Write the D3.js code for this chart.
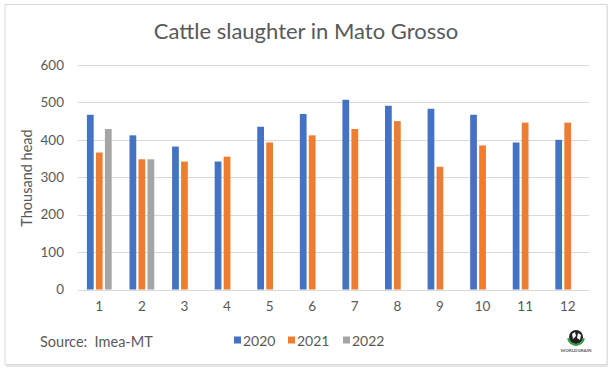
<!DOCTYPE html>
<html>
<head>
<meta charset="utf-8">
<script src="https://cdn.jsdelivr.net/npm/d3@7"></script>
<style>
  body { margin: 0; background: #fff; }
  text { font-family: Lato, "Open Sans", sans-serif; fill: #595959; }
</style>
</head>
<body>
<div id="chart"></div>
<script>
// Data (thousand head)
const months = ["1", "2", "3", "4", "5", "6", "7", "8", "9", "10", "11", "12"];
const years = ["2020", "2021", "2022"];
const values2020 = [467, 412, 382, 342, 435, 469, 507, 491, 483, 467, 393, 400];
const values2021 = [366, 348, 342, 355, 393, 412, 429, 450, 328, 385, 446, 446];
const values2022 = [429, 348, null, null, null, null, null, null, null, null, null, null];
const yTicks = [0, 100, 200, 300, 400, 500, 600];
const colors = ["#4472C4", "#ED7D31", "#A5A5A5"];

const W = 613, H = 376;
const margin = {top: 65, right: 24, bottom: 86.5, left: 78};
const width = W - margin.left - margin.right;
const height = H - margin.top - margin.bottom;

const svg = d3.select("#chart")
    .append("svg")
    .attr("width", W)
    .attr("height", H);

// Chart frame with soft shadow
svg.append("rect")
    .attr("x", 6).attr("y", 6)
    .attr("width", 602).attr("height", 361)
    .attr("fill", "#e6e6e6");
svg.append("rect")
    .attr("x", 5).attr("y", 4.5)
    .attr("width", 602).attr("height", 360)
    .attr("fill", "#fff")
    .attr("stroke", "#d9d9d9")
    .attr("stroke-width", 1);

const g = svg.append("g")
    .attr("transform", `translate(${margin.left},${margin.top})`);

// Scales
const x0 = d3.scaleBand().domain(months).range([0, width]).padding(0);
const groupW = 27;
const x1 = d3.scaleBand().domain(years)
    .range([x0.bandwidth() / 2 - groupW / 2, x0.bandwidth() / 2 + groupW / 2])
    .paddingInner(0.25).paddingOuter(0.125);
const y = d3.scaleLinear().domain([0, 600]).range([height, 0]);

// Gridlines
g.append("g")
    .selectAll("line")
    .data(yTicks)
    .join("line")
    .attr("x1", 0).attr("x2", width)
    .attr("y1", d => Math.round(y(d)) + 0.5)
    .attr("y2", d => Math.round(y(d)) + 0.5)
    .attr("stroke", "#d9d9d9")
    .attr("stroke-width", 1);

// Bars
const series = [values2020, values2021, values2022];
const rows = [];
months.forEach((m, i) => {
    years.forEach((yr, j) => {
        if (series[j][i] != null) rows.push({month: m, year: yr, value: series[j][i], c: colors[j]});
    });
});

g.append("g")
    .selectAll("rect")
    .data(rows)
    .join("rect")
    .attr("x", d => x0(d.month) + x1(d.year))
    .attr("y", d => y(d.value))
    .attr("width", x1.bandwidth())
    .attr("height", d => y(0) - y(d.value))
    .attr("fill", d => d.c);

// Y axis labels
const yAxis = g.append("g")
    .call(d3.axisLeft(y).tickValues(yTicks).tickSize(0).tickPadding(14));
yAxis.select(".domain").remove();
yAxis.selectAll("text")
    .style("font-family", "Lato, 'Open Sans', sans-serif")
    .style("font-size", "13.5px")
    .attr("fill", "#595959");

// X axis labels
const xAxis = g.append("g")
    .attr("transform", `translate(0,${height})`)
    .call(d3.axisBottom(x0).tickSize(0).tickPadding(12));
xAxis.select(".domain").remove();
xAxis.selectAll("text")
    .style("font-family", "Lato, 'Open Sans', sans-serif")
    .style("font-size", "13.5px")
    .attr("fill", "#595959");

// Axis title
svg.append("text")
    .attr("transform", "rotate(-90)")
    .attr("x", -178)
    .attr("y", 32)
    .attr("text-anchor", "middle")
    .style("font-size", "14.5px")
    .text("Thousand head");

// Title
svg.append("text")
    .attr("x", 306)
    .attr("y", 39)
    .attr("text-anchor", "middle")
    .style("font-size", "22px")
    .text("Cattle slaughter in Mato Grosso");

// Source
svg.append("text")
    .attr("x", 40)
    .attr("y", 347)
    .style("font-size", "14.5px")
    .style("white-space", "pre")
    .text("Source:  Imea-MT");

// Legend
const legendX = [234, 288, 343];
const legend = svg.append("g");
years.forEach((yr, j) => {
    legend.append("rect")
        .attr("x", legendX[j]).attr("y", 336.5)
        .attr("width", 7).attr("height", 7)
        .attr("fill", colors[j]);
    legend.append("text")
        .attr("x", legendX[j] + 9)
        .attr("y", 345.5)
        .style("font-size", "14px")
        .text(yr);
});

// Small logo
const logo = svg.append("g").attr("transform", "translate(576,337)");
logo.append("circle").attr("r", 7).attr("fill", "#222");
logo.append("path")
    .attr("d", "M-4,-3 L-1,-5 L0,-1 L-3,2 Z M2,-4 L5,-2 L4,3 L1,1 Z")
    .attr("fill", "#fff");
logo.append("path")
    .attr("d", d3.arc()({innerRadius: 7, outerRadius: 9, startAngle: Math.PI * 0.55, endAngle: Math.PI * 1.45}))
    .attr("fill", "#2e9e3e");
logo.append("text")
    .attr("y", 15)
    .attr("text-anchor", "middle")
    .style("font-size", "4.5px")
    .style("font-weight", "bold")
    .attr("fill", "#333")
    .text("WORLDGRAIN");
</script>
</body>
</html>
